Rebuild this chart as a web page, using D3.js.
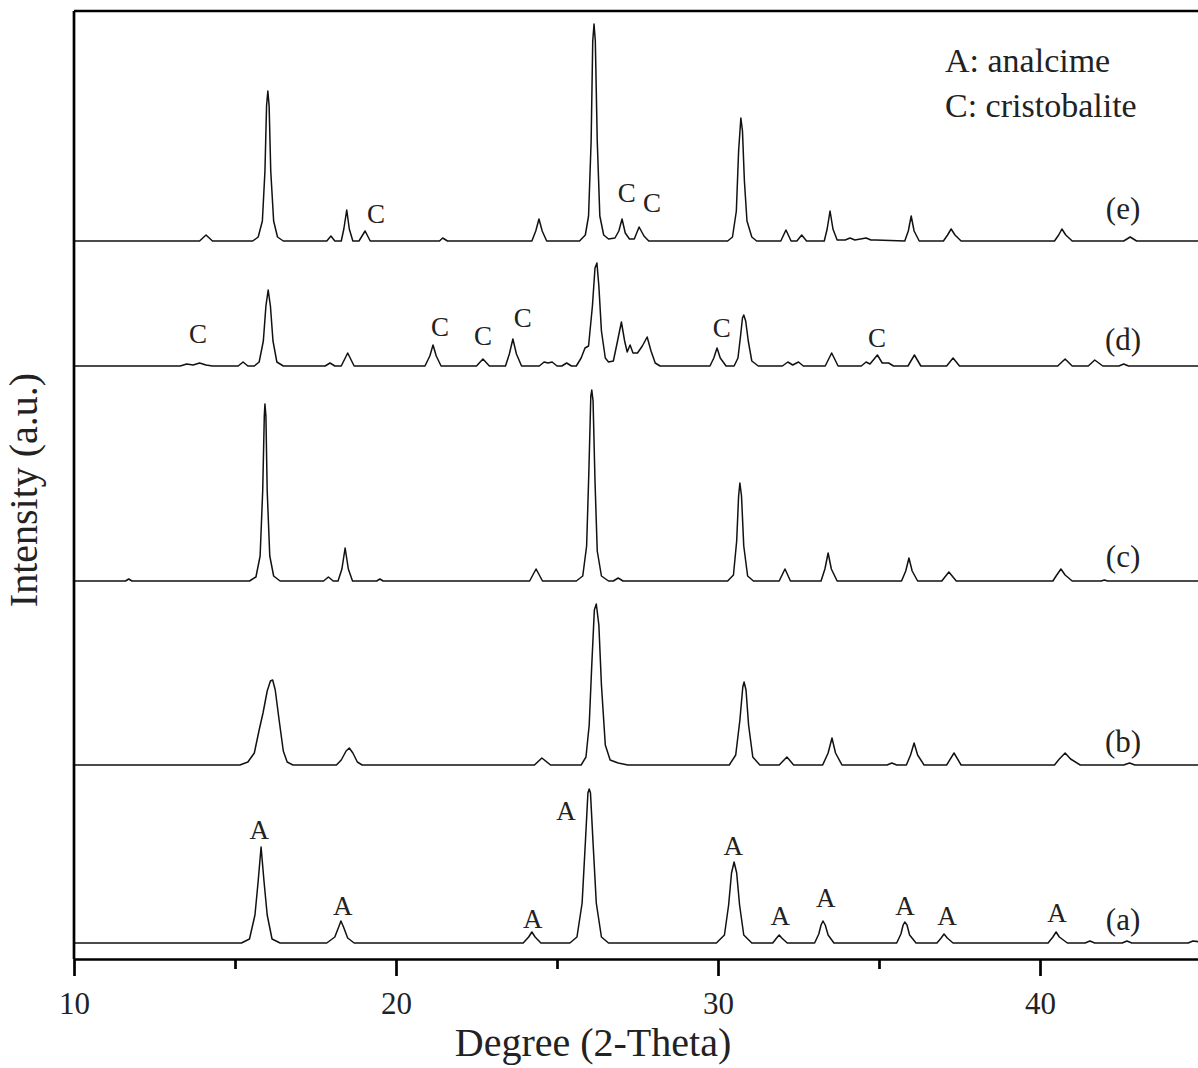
<!DOCTYPE html>
<html>
<head>
<meta charset="utf-8">
<script src="https://d3js.org/d3.v7.min.js"></script>
<style>
  html, body { margin: 0; padding: 0; background: #fff; }
  svg { display: block; }
  text { font-family: "Liberation Serif", "Times New Roman", serif; fill: #222; }
</style>
</head>
<body>
<script>
// XRD patterns, [2-theta, intensity above own baseline]

const traceA = [
  [10,0],[15.2,0],[15.45,4],[15.62,28],[15.72,62],[15.81,96],[15.9,62],[16.0,28],[16.15,4],[16.4,0],
  [17.85,0],[18.1,6],[18.22,16],[18.29,22],[18.37,16],[18.5,5],[18.7,0],
  [23.95,0],[24.12,6],[24.22,11],[24.32,6],[24.5,0],
  [25.4,0],[25.62,6],[25.78,40],[25.88,100],[25.96,150],[26.0,154],[26.04,150],[26.12,100],[26.22,40],[26.38,6],[26.6,0],
  [29.95,0],[30.2,8],[30.33,38],[30.42,70],[30.5,81],[30.58,70],[30.67,38],[30.8,8],[31.05,0],
  [31.7,0],[31.82,5],[31.9,8],[31.98,5],[32.15,0],
  [33.0,0],[33.13,9],[33.2,18],[33.26,22],[33.33,18],[33.42,8],[33.6,0],
  [35.55,0],[35.68,9],[35.75,18],[35.8,21],[35.87,18],[35.95,8],[36.15,0],
  [36.8,0],[36.93,5],[37.02,9],[37.12,5],[37.3,0],
  [40.25,0],[40.4,6],[40.5,11],[40.6,6],[40.85,0],
  [41.4,0],[41.55,2],[41.7,0],[42.55,0],[42.7,2],[42.85,0],[44.6,0],[44.75,2],[45,1]
];

const traceB = [
  [10,0],[15.15,0],[15.4,3],[15.6,12],[15.75,35],[15.87,52],[16.0,74],[16.1,84],[16.17,85],[16.25,75],[16.37,45],[16.5,14],[16.62,3],[16.8,0],
  [18.15,0],[18.3,5],[18.45,14],[18.55,17],[18.66,12],[18.8,3],[18.95,0],
  [24.3,0],[24.53,7],[24.8,0],
  [25.75,0],[25.9,8],[26.0,40],[26.08,100],[26.16,155],[26.22,161],[26.3,140],[26.38,80],[26.5,20],[26.65,5],[26.9,2],[27.2,0],
  [30.35,0],[30.55,10],[30.68,45],[30.77,78],[30.81,83],[30.87,75],[30.95,40],[31.08,8],[31.3,0],
  [31.9,0],[32.14,8],[32.35,0],
  [33.25,0],[33.42,12],[33.54,27],[33.65,12],[33.85,0],
  [35.25,0],[35.4,2],[35.55,0],
  [35.85,0],[35.98,10],[36.09,22],[36.2,10],[36.4,0],
  [37.1,0],[37.33,12],[37.55,0],
  [40.45,0],[40.6,6],[40.78,12],[40.95,6],[41.25,0],
  [42.6,0],[42.78,2],[42.95,0],[45,0]
];

const traceC = [
  [10,0],[11.6,0],[11.7,2],[11.8,0],
  [15.45,0],[15.65,4],[15.78,25],[15.86,90],[15.91,165],[15.93,177],[15.96,165],[16.0,90],[16.08,25],[16.2,5],[16.4,0],
  [17.75,0],[17.9,4],[18.05,0],
  [18.2,0],[18.32,12],[18.42,33],[18.52,12],[18.65,0],
  [19.4,0],[19.5,2],[19.6,0],
  [24.15,0],[24.35,12],[24.55,0],
  [25.6,0],[25.8,5],[25.92,35],[25.99,110],[26.05,185],[26.08,191],[26.12,180],[26.18,100],[26.25,30],[26.38,5],[26.6,0],
  [26.75,0],[26.9,3],[27.05,0],
  [30.3,0],[30.48,6],[30.58,40],[30.64,85],[30.68,98],[30.73,85],[30.8,35],[30.92,5],[31.1,0],
  [31.9,0],[32.08,12],[32.25,0],
  [33.2,0],[33.32,12],[33.42,28],[33.52,12],[33.7,0],
  [35.7,0],[35.83,10],[35.93,23],[36.03,10],[36.2,0],
  [36.95,0],[37.17,9],[37.4,0],
  [40.4,0],[40.52,6],[40.65,12],[40.78,6],[41.0,0],
  [41.9,0],[42.0,1],[42.1,0],[45,0]
];

const traceD = [
  [10,0],[13.3,0],[13.5,2],[13.7,1],[13.9,3],[14.1,1],[14.3,0],
  [15.1,0],[15.25,4],[15.4,0],
  [15.6,0],[15.75,4],[15.88,25],[15.96,60],[16.03,76],[16.1,60],[16.18,25],[16.3,4],[16.5,0],
  [17.8,0],[17.95,3],[18.1,0],
  [18.3,0],[18.5,13],[18.7,0],
  [20.9,0],[21.05,10],[21.15,21],[21.25,10],[21.4,0],
  [22.5,0],[22.7,7],[22.9,0],
  [23.4,0],[23.52,12],[23.63,27],[23.74,12],[23.9,0],
  [24.45,0],[24.6,4],[24.72,3],[24.85,4],[25.0,0],
  [25.15,0],[25.3,3],[25.45,0],
  [25.6,0],[25.75,8],[25.87,18],[25.98,20],[26.1,60],[26.18,98],[26.24,103],[26.3,80],[26.38,35],[26.5,8],[26.6,4],
  [26.75,5],[26.88,25],[27.0,44],[27.1,25],[27.18,14],[27.27,21],[27.36,13],[27.5,13],[27.65,20],[27.8,29],[27.92,15],[28.05,3],[28.2,0],
  [29.75,0],[29.87,8],[29.97,18],[30.07,8],[30.25,0],
  [30.5,0],[30.62,8],[30.7,30],[30.76,48],[30.8,51],[30.86,45],[30.94,25],[31.05,5],[31.25,0],
  [32.0,0],[32.17,4],[32.32,1],[32.5,4],[32.65,0],
  [33.33,0],[33.53,13],[33.73,0],
  [34.45,0],[34.6,4],[34.72,2],[34.95,11],[35.1,3],[35.3,3],[35.45,0],
  [35.9,0],[36.1,11],[36.3,0],
  [37.1,0],[37.3,8],[37.5,0],
  [40.55,0],[40.78,7],[41.0,0],
  [41.5,0],[41.7,6],[41.95,0],
  [42.45,0],[42.6,2],[42.75,0],[45,0]
];

const traceE = [
  [10,0],[13.9,0],[14.1,6],[14.3,0],
  [15.55,0],[15.72,4],[15.85,20],[15.93,70],[15.98,135],[16.02,150],[16.06,135],[16.11,70],[16.2,20],[16.32,4],[16.5,0],
  [17.85,0],[17.98,5],[18.1,0],
  [18.3,0],[18.38,12],[18.47,31],[18.55,12],[18.66,0],
  [18.85,0],[19.04,10],[19.2,0],
  [21.35,0],[21.45,3],[21.6,0],
  [24.22,0],[24.34,10],[24.44,22],[24.54,10],[24.68,0],
  [25.7,0],[25.88,6],[25.98,25],[26.06,100],[26.11,200],[26.15,217],[26.19,200],[26.25,100],[26.33,25],[26.45,6],[26.6,2],
  [26.8,3],[26.92,10],[27.02,22],[27.12,8],[27.25,2],
  [27.4,2],[27.55,14],[27.7,5],[27.85,0],
  [30.3,0],[30.45,4],[30.57,30],[30.64,90],[30.71,123],[30.76,110],[30.82,60],[30.9,20],[31.05,4],[31.2,0],
  [31.95,0],[32.11,11],[32.27,0],
  [32.45,0],[32.6,6],[32.75,0],
  [33.3,0],[33.39,12],[33.48,30],[33.57,12],[33.7,1],
  [33.95,1],[34.1,3],[34.25,1],[34.6,3],[34.75,1],[34.9,1],
  [35.8,0],[35.91,10],[36.0,25],[36.09,10],[36.25,0],
  [37.0,0],[37.13,6],[37.24,12],[37.36,6],[37.55,0],
  [40.45,0],[40.58,6],[40.68,12],[40.8,6],[41.0,0],
  [42.6,0],[42.8,4],[43.0,0],[45,0]
];

const seriesNames = ["(a)", "(b)", "(c)", "(d)", "(e)"];
const seriesTraces = [traceA, traceB, traceC, traceD, traceE];
const seriesOffsets = [16, 194, 378, 593, 718];
const seriesLabelLevels = [13, 13, 14, 16, 22];
const seriesLabelTheta = 42.58;

// phase markers: [2-theta, intensity level of the letter baseline]
const analcimeMarks = [
  [15.75,120],[18.35,44],[24.25,31],[25.28,139],[30.47,104],
  [31.93,34],[33.35,52],[35.81,44],[37.11,34],[40.53,37]
];
const cristobaliteMarks = [
  [19.38,736],[27.17,757],[27.95,747],
  [13.85,616],[21.37,623],[22.7,614],[23.94,632],[30.12,622],[34.94,612]
];

const legendLines = ["A: analcime", "C: cristobalite"];
const majorTicks = [10, 20, 30, 40];
const minorTicks = [15, 25, 35, 45];

const W = 1198, H = 1068;
const plotLeft = 74, plotTop = 11, plotBottom = 959;

const svg = d3.select("body").append("svg")
  .attr("width", W).attr("height", H);

const x = d3.scaleLinear().domain([10, 45]).range([plotLeft, plotLeft + 35 * 32.2]);
const y = d3.scaleLinear().domain([0, 948]).range([plotBottom, plotTop]);

// traces
const line = d3.line().x(d => x(d[0])).y(d => y(d[1]));
seriesTraces.forEach((tr, i) => {
  const off = seriesOffsets[i];
  svg.append("path")
    .datum(tr.map(d => [d[0], d[1] + off]))
    .attr("d", line)
    .attr("fill", "none")
    .attr("stroke", "#111")
    .attr("stroke-width", 1.5)
    .attr("stroke-linejoin", "round");
});

// frame: top and left
svg.append("line").attr("x1", plotLeft).attr("x2", W).attr("y1", plotTop).attr("y2", plotTop)
  .attr("stroke", "#000").attr("stroke-width", 2.7);
svg.append("line").attr("x1", plotLeft).attr("x2", plotLeft).attr("y1", plotTop).attr("y2", plotBottom)
  .attr("stroke", "#000").attr("stroke-width", 2.7);

// bottom axis
const gx = svg.append("g").attr("transform", `translate(0,${plotBottom})`)
  .call(d3.axisBottom(x).tickValues(majorTicks).tickSize(17).tickSizeOuter(0)
    .tickPadding(16).tickFormat(d3.format("d")));
gx.select(".domain").attr("stroke", "#000").attr("stroke-width", 2.7);
gx.selectAll(".tick line").attr("stroke", "#000").attr("stroke-width", 2.7);
gx.selectAll(".tick text").attr("font-size", 31)
  .attr("font-family", "Liberation Serif, serif").attr("fill", "#222");

const gm = svg.append("g").attr("transform", `translate(0,${plotBottom})`)
  .call(d3.axisBottom(x).tickValues(minorTicks).tickSize(10).tickSizeOuter(0).tickFormat(""));
gm.select(".domain").remove();
gm.selectAll(".tick line").attr("stroke", "#000").attr("stroke-width", 2.7);

// axis titles
svg.append("text")
  .attr("x", 593).attr("y", 1056)
  .attr("text-anchor", "middle").attr("font-size", 40)
  .text("Degree (2-Theta)");

svg.append("text")
  .attr("transform", "translate(37,490) rotate(-90)")
  .attr("text-anchor", "middle").attr("font-size", 40)
  .text("Intensity (a.u.)");

// series labels
svg.selectAll(".slabel").data(seriesNames).enter().append("text")
  .attr("class", "slabel")
  .attr("x", x(seriesLabelTheta))
  .attr("y", (d, i) => y(seriesOffsets[i] + seriesLabelLevels[i]))
  .attr("text-anchor", "middle").attr("font-size", 31)
  .text(d => d);

// phase markers
svg.selectAll(".amark").data(analcimeMarks).enter().append("text")
  .attr("class", "amark")
  .attr("x", d => x(d[0])).attr("y", d => y(d[1]))
  .attr("text-anchor", "middle").attr("font-size", 27)
  .text("A");

svg.selectAll(".cmark").data(cristobaliteMarks).enter().append("text")
  .attr("class", "cmark")
  .attr("x", d => x(d[0])).attr("y", d => y(d[1]))
  .attr("text-anchor", "middle").attr("font-size", 27)
  .text("C");

// legend
svg.selectAll(".legend").data(legendLines).enter().append("text")
  .attr("class", "legend")
  .attr("x", 945).attr("y", (d, i) => 72 + i * 45)
  .attr("font-size", 34)
  .text(d => d);
</script>
</body>
</html>
